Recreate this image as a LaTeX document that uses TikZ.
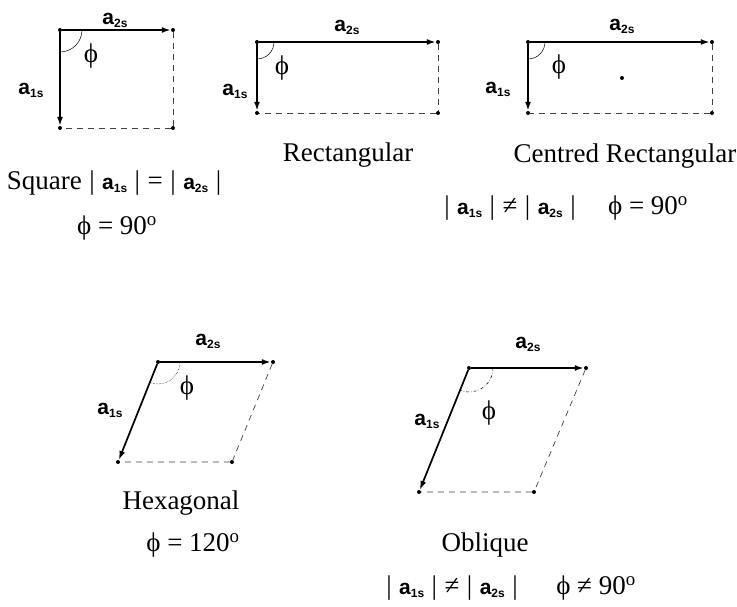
\documentclass[tikz,border=0pt]{standalone}
\usepackage{fontspec}
\setmainfont{Liberation Serif}
\setsansfont{Liberation Sans}
\usetikzlibrary{arrows.meta}
\newcommand{\avec}[1]{{\fontsize{21}{21}\sffamily\bfseries\selectfont a\raisebox{-3pt}{\fontsize{12}{12}\selectfont #1}}}
\newcommand{\phis}{ϕ}
\newcommand{\gap}{\hspace{7.5pt}}
\tikzset{corner/.style={circle,fill,inner sep=0pt,minimum size=4pt},vec/.style={-{Latex[length=9pt,width=6pt]},line width=1.7pt},side/.style={dash pattern=on 6pt off 5pt,line width=0.7pt,black!75},ang/.style={line width=0.5pt},lbl/.style={inner sep=0pt},txt/.style={inner sep=0pt,font=\fontsize{27}{30}\selectfont}}

\begin{document}
\begin{tikzpicture}[x=1pt,y=-1pt]
\useasboundingbox (0,0) rectangle (737,607);
% square
\node[corner] (sqo) at (60,30) {}; \node[corner] (sqb) at (173,30) {}; \node[corner] (sqa) at (60,128) {}; \node[corner] (sqf) at (173,128) {};
\draw[vec] (sqo)--(sqb); \draw[vec] (sqo)--(sqa); \draw[side] (sqb)--(sqf)--(sqa);
\draw[ang] ([shift={(22,0)}]sqo.center) arc[start angle=0,end angle=90,radius=22];
\node[lbl] (sqla2) at (115,20) {\avec{2s}}; \node[lbl] (sqla1) at (31,90) {\avec{1s}}; \node[txt] (sqphi) at (91,56) {\phis};
\node[txt] (sqname) at (114,183) {Square\gap|\gap\avec{1s}\gap|\gap=\gap|\gap\avec{2s}\gap|};
\node[txt] (sqcond) at (117,228) {\phis\ = 90\textsuperscript{o}};
% rectangular
\node[corner] (reo) at (257,42) {}; \node[corner] (reb) at (438,42) {}; \node[corner] (rea) at (257,113) {}; \node[corner] (ref) at (438,113) {};
\draw[vec] (reo)--(reb); \draw[vec] (reo)--(rea); \draw[side] (reb)--(ref)--(rea);
\draw[ang] ([shift={(17,0)}]reo.center) arc[start angle=0,end angle=90,radius=17];
\node[lbl] (rela2) at (347,27) {\avec{2s}}; \node[lbl] (rela1) at (235,91) {\avec{1s}}; \node[txt] (rephi) at (282,68) {\phis};
\node[txt] (rename) at (348,155) {Rectangular};
% centred rectangular
\node[corner] (ceo) at (528,42) {}; \node[corner] (ceb) at (712,42) {}; \node[corner] (cea) at (528,113) {}; \node[corner] (cef) at (712,113) {};
\node[corner] (cec) at (622,78) {};
\draw[vec] (ceo)--(ceb); \draw[vec] (ceo)--(cea); \draw[side] (ceb)--(cef)--(cea);
\draw[ang] ([shift={(17,0)}]ceo.center) arc[start angle=0,end angle=90,radius=17];
\node[lbl] (cela2) at (622,26) {\avec{2s}}; \node[lbl] (cela1) at (498,89) {\avec{1s}}; \node[txt] (cephi) at (559,67) {\phis};
\node[txt] (cename) at (625,156) {Centred Rectangular};
\node[txt] (cecond) at (510,208) {|\gap\avec{1s}\gap|\gap≠\gap|\gap\avec{2s}\gap|};
\node[txt] (ceangle) at (648,208) {\phis\ = 90\textsuperscript{o}};
% hexagonal
\node[corner] (hxo) at (158,362) {}; \node[corner] (hxb) at (273,362) {}; \node[corner] (hxa) at (118,462) {}; \node[corner] (hxf) at (232,462) {};
\draw[vec] (hxo)--(hxb); \draw[vec] (hxo)--(hxa); \draw[side] (hxb)--(hxf)--(hxa);
\draw[ang,densely dotted] ([shift={(22,0)}]hxo.center) arc[start angle=0,end angle=112,radius=22];
\node[lbl] (hxla2) at (208,341) {\avec{2s}}; \node[lbl] (hxla1) at (110,410) {\avec{1s}}; \node[txt] (hxphi) at (187,388) {\phis};
\node[txt] (hxname) at (181,503) {Hexagonal};
\node[txt] (hxcond) at (193,545) {\phis\ = 120\textsuperscript{o}};
% oblique
\node[corner] (obo) at (469,368) {}; \node[corner] (obb) at (586,368) {}; \node[corner] (oba) at (419,492) {}; \node[corner] (obf) at (534,492) {};
\draw[vec] (obo)--(obb); \draw[vec] (obo)--(oba); \draw[side] (obb)--(obf)--(oba);
\draw[ang,dash dot] ([shift={(24,0)}]obo.center) arc[start angle=0,end angle=112,radius=24];
\node[lbl] (obla2) at (528,344) {\avec{2s}}; \node[lbl] (obla1) at (427,421) {\avec{1s}}; \node[txt] (obphi) at (489,413) {\phis};
\node[txt] (obname) at (485,545) {Oblique};
\node[txt] (obcond) at (452,588) {|\gap\avec{1s}\gap|\gap≠\gap|\gap\avec{2s}\gap|};
\node[txt] (obangle) at (596,588) {\phis\ ≠ 90\textsuperscript{o}};
\end{tikzpicture}
\end{document}
